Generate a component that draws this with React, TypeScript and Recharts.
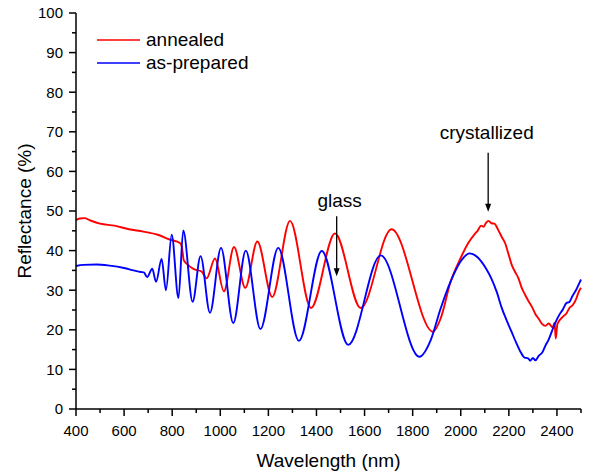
import React from 'react';
import { LineChart, Line, XAxis, YAxis, Legend, ReferenceLine, ReferenceDot } from 'recharts';

const FONT = 'Arial, "Liberation Sans", sans-serif';

// annealed film
const annealedWavelength = [
  400, 415, 435, 460, 500, 560, 620, 680, 740, 790, 832, 840, 848, 860, 888, 923, 943,
  978, 1015, 1057, 1104, 1154, 1216, 1290, 1377, 1477, 1584, 1712, 1885,
  1916, 1958, 2000, 2030, 2057, 2070, 2085, 2095, 2105, 2116, 2128, 2140, 2155, 2170,
  2185, 2200, 2212, 2226, 2240, 2254, 2268, 2282, 2296, 2310, 2324, 2338, 2352, 2366,
  2382, 2390, 2395, 2402, 2423, 2440, 2452, 2465, 2480, 2490, 2500,
];
const annealedReflectance = [
  47.7, 48.1, 48.2, 47.6, 46.8, 46.3, 45.4, 44.8, 44.0, 42.8, 41.9, 41.0, 37.6, 36.7, 35.4, 34.7, 33.0,
  38.0, 29.7, 40.9, 30.6, 42.3, 28.3, 47.5, 25.5, 44.3, 25.5, 45.4, 19.5,
  22.8, 32.2, 38.2, 41.8, 44.1, 45.0, 46.3, 46.0, 47.0, 47.5, 46.9, 46.8, 45.3, 43.5,
  41.8, 38.8, 36.4, 34.6, 33.0, 30.5, 28.8, 27.2, 25.8, 24.0, 22.8, 21.5, 21.0, 21.6,
  20.6, 21.8, 17.8, 21.5, 23.2, 24.2, 25.5, 26.2, 27.8, 29.5, 30.6,
];

// as-prepared film
const asPreparedWavelength = [
  400, 430, 486, 540, 600, 640, 670, 682, 696, 717, 733, 756, 774, 798, 826, 846, 885,
  918, 957, 1003, 1054, 1106, 1167, 1241, 1327, 1422, 1532, 1667, 1828,
  1875, 1916, 1958, 2000, 2036, 2060, 2085, 2105, 2127, 2150, 2170, 2190, 2212, 2230,
  2247, 2265, 2280, 2289, 2300, 2310, 2325, 2338, 2352, 2366, 2380, 2395, 2409, 2425,
  2440, 2451, 2465, 2480, 2490, 2500,
];
const asPreparedReflectance = [
  36.1, 36.4, 36.5, 36.2, 35.6, 35.0, 34.6, 34.5, 33.3, 35.4, 32.1, 37.9, 30.0, 44.0, 28.0, 45.1, 27.1,
  38.6, 24.3, 40.7, 21.7, 40.0, 20.2, 40.7, 17.2, 39.9, 16.2, 38.8, 13.2,
  17.4, 25.3, 32.2, 37.3, 39.3, 38.8, 37.3, 35.5, 33.0, 29.5, 25.6, 22.5, 19.4, 16.8,
  14.6, 13.0, 12.8, 12.2, 12.9, 12.3, 13.5, 14.2, 16.0, 17.6, 19.8, 22.0, 23.7, 25.2,
  26.8, 27.0, 28.6, 30.1, 31.4, 32.7,
];

const xTicks = [400, 500, 600, 700, 800, 900, 1000, 1100, 1200, 1300, 1400, 1500, 1600, 1700, 1800, 1900, 2000, 2100, 2200, 2300, 2400, 2500];
const yTicks = [0, 5, 10, 15, 20, 25, 30, 35, 40, 45, 50, 55, 60, 65, 70, 75, 80, 85, 90, 95, 100];

const annealedData = annealedWavelength.map((w, i) => ({ w, r: annealedReflectance[i] }));
const asPreparedData = asPreparedWavelength.map((w, i) => ({ w, r: asPreparedReflectance[i] }));

const axisLine = { stroke: '#000', strokeWidth: 1.5 };

// major ticks are long and labelled, minor ones short
const XTick = ({ x, y, payload, side }: any) => {
  const major = payload.value % 200 === 0;
  const len = major ? 7 : 4;
  const dir = side === 'top' ? -1 : 1;
  return (
    <g>
      <line x1={x} x2={x} y1={y} y2={y + dir * len} stroke="#000" strokeWidth={1.5} />
      {side === 'bottom' && major && (
        <text x={x} y={y + 27} textAnchor="middle" fontSize={15} fill="#000" fontFamily={FONT}>
          {payload.value}
        </text>
      )}
    </g>
  );
};

const YTick = ({ x, y, payload, side }: any) => {
  const major = payload.value % 10 === 0;
  const len = major ? 7 : 4;
  const dir = side === 'right' ? 1 : -1;
  return (
    <g>
      <line x1={x} x2={x + dir * len} y1={y} y2={y} stroke="#000" strokeWidth={1.5} />
      {side === 'left' && major && (
        <text x={x - 13} y={y} dy="0.36em" textAnchor="end" fontSize={15} fill="#000" fontFamily={FONT}>
          {payload.value}
        </text>
      )}
    </g>
  );
};

const ArrowDown = (props: any) => {
  const { x1, y1, x2, y2 } = props;
  return (
    <g>
      <line x1={x1} y1={y1} x2={x2} y2={y2 - 6} stroke="#000" strokeWidth={1.3} />
      <polygon points={`${x2 - 3},${y2 - 8} ${x2 + 3},${y2 - 8} ${x2},${y2}`} fill="#000" />
    </g>
  );
};

const renderLegend = (props: any) => (
  <div style={{ fontFamily: FONT, fontSize: 19, color: '#000' }}>
    {props.payload.map((item: any) => (
      <div key={item.value} style={{ display: 'flex', alignItems: 'center', height: 23.4 }}>
        <svg width={43} height={4} style={{ display: 'block' }}>
          <line x1={0} x2={43} y1={2} y2={2} stroke={item.color} strokeWidth={1.6} />
        </svg>
        <span style={{ marginLeft: 6, lineHeight: '23.4px' }}>{item.value}</span>
      </div>
    ))}
  </div>
);

const textLabel = (value: string) => ({
  value,
  position: 'center',
  fontSize: 19,
  fill: '#000',
  fontFamily: FONT,
});

export default function App() {
  return (
    <div style={{ position: 'absolute', left: 0, top: 0, background: '#fff' }}>
      <LineChart width={594} height={474} margin={{ top: 13, right: 13, left: 0, bottom: 0 }}>
        <XAxis
          xAxisId="bottom"
          dataKey="w"
          type="number"
          domain={[400, 2500]}
          ticks={xTicks}
          interval={0}
          height={65}
          tickSize={0}
          tickMargin={0}
          tickLine={false}
          axisLine={axisLine}
          tick={(p: any) => <XTick {...p} side="bottom" />}
          label={{ value: 'Wavelength (nm)', position: 'insideBottom', offset: 7, fontSize: 19, fill: '#000', fontFamily: FONT }}
        />
        <XAxis
          xAxisId="top"
          orientation="top"
          dataKey="w"
          type="number"
          domain={[400, 2500]}
          ticks={xTicks}
          interval={0}
          height={0}
          tickSize={0}
          tickMargin={0}
          tickLine={false}
          axisLine={axisLine}
          tick={(p: any) => <XTick {...p} side="top" />}
        />
        <YAxis
          yAxisId="left"
          type="number"
          domain={[0, 100]}
          ticks={yTicks}
          interval={0}
          width={76}
          tickSize={0}
          tickMargin={0}
          tickLine={false}
          axisLine={axisLine}
          tick={(p: any) => <YTick {...p} side="left" />}
          label={{ value: 'Reflectance (%)', angle: -90, position: 'insideLeft', offset: 24, textAnchor: 'middle', fontSize: 19, fill: '#000', fontFamily: FONT }}
        />
        <YAxis
          yAxisId="right"
          orientation="right"
          type="number"
          domain={[0, 100]}
          ticks={yTicks}
          interval={0}
          width={0}
          tickSize={0}
          tickMargin={0}
          tickLine={false}
          axisLine={axisLine}
          tick={(p: any) => <YTick {...p} side="right" />}
        />
        <Legend
          layout="vertical"
          align="center"
          verticalAlign="middle"
          wrapperStyle={{ left: 97, top: 28, width: 'auto', height: 'auto' }}
          content={renderLegend}
        />
        <Line
          xAxisId="bottom"
          yAxisId="left"
          data={annealedData}
          dataKey="r"
          name="annealed"
          type="monotone"
          stroke="#ff0000"
          strokeWidth={1.9}
          dot={false}
          isAnimationActive={false}
        />
        <Line
          xAxisId="bottom"
          yAxisId="left"
          data={asPreparedData}
          dataKey="r"
          name="as-prepared"
          type="monotone"
          stroke="#0000ff"
          strokeWidth={1.9}
          dot={false}
          isAnimationActive={false}
        />
        <ReferenceLine
          xAxisId="bottom"
          yAxisId="left"
          segment={[{ x: 1484, y: 48.7 }, { x: 1484, y: 33.5 }]}
          shape={ArrowDown}
        />
        <ReferenceLine
          xAxisId="bottom"
          yAxisId="left"
          segment={[{ x: 2114, y: 64.7 }, { x: 2114, y: 49.8 }]}
          shape={ArrowDown}
        />
        <ReferenceDot xAxisId="bottom" yAxisId="left" x={1496} y={52.8} r={0} fill="none" stroke="none" label={textLabel('glass')} />
        <ReferenceDot xAxisId="bottom" yAxisId="left" x={2108} y={69.9} r={0} fill="none" stroke="none" label={textLabel('crystallized')} />
      </LineChart>
    </div>
  );
}
